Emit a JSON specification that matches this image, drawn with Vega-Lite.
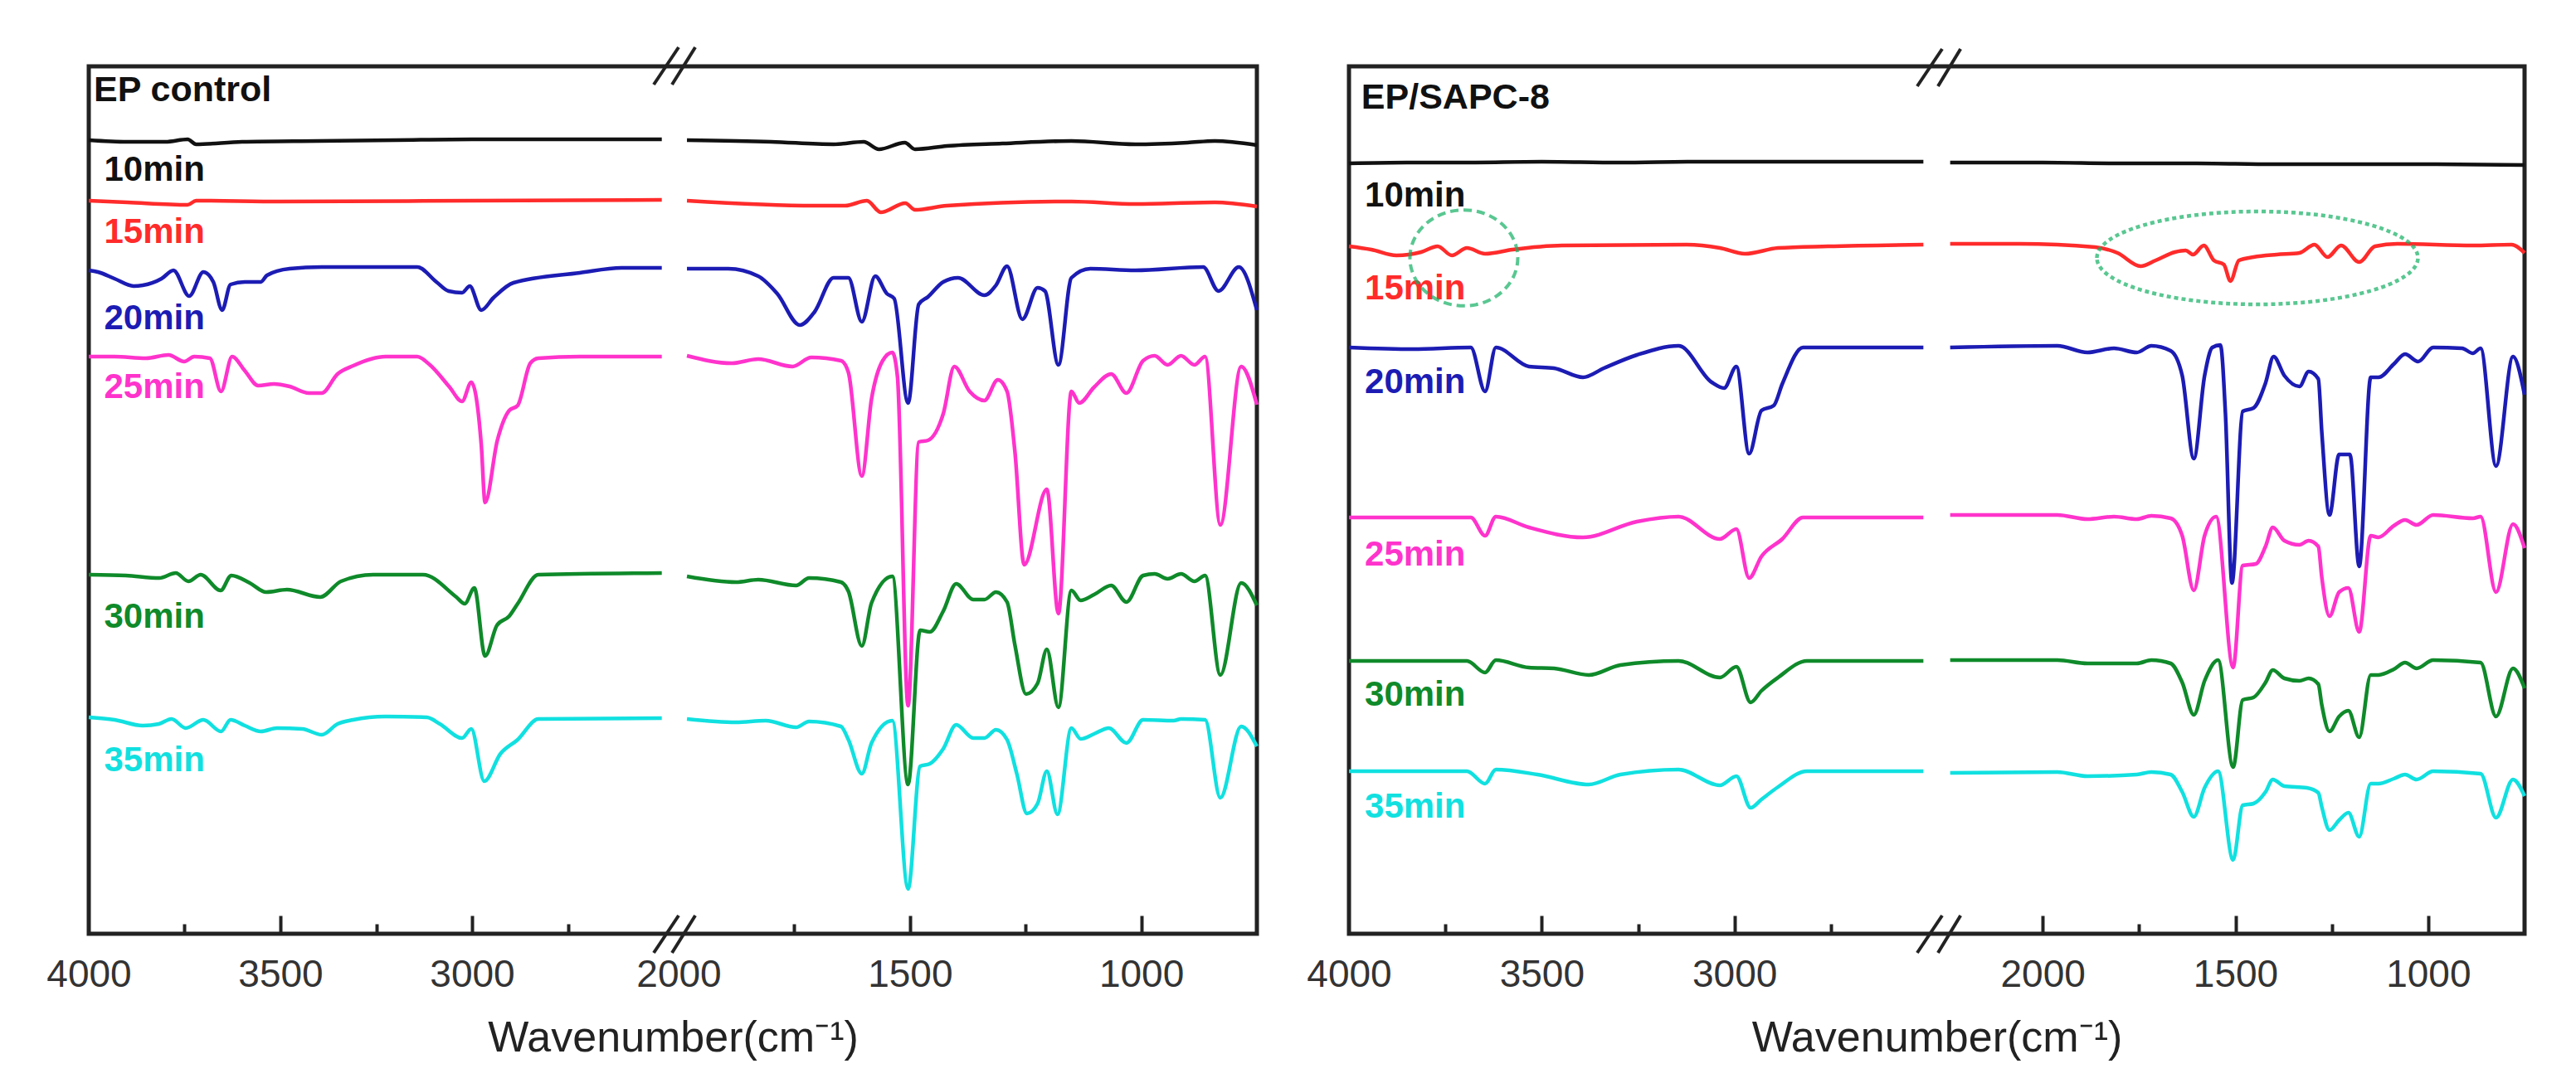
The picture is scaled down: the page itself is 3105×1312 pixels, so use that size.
{
  "$schema": "https://vega.github.io/schema/vega-lite/v6.json",
  "background": "white",
  "padding": {"left": 53, "top": 52, "right": 10, "bottom": 10},
  "spacing": 111,
  "bounds": "flush",
  "config": {"view": {"stroke": "#222222", "strokeWidth": 5}, "font": "Liberation Sans"},
  "datasets": {
    "ep": [
      {"series":"10min","seg":1,"wn":4000,"t":957},{"series":"10min","seg":1,"wn":3900,"t":955},{"series":"10min","seg":1,"wn":3800,"t":955},{"series":"10min","seg":1,"wn":3742,"t":958},{"series":"10min","seg":1,"wn":3720,"t":952},{"series":"10min","seg":1,"wn":3600,"t":955},{"series":"10min","seg":1,"wn":3400,"t":956},{"series":"10min","seg":1,"wn":3200,"t":957},{"series":"10min","seg":1,"wn":3000,"t":958},{"series":"10min","seg":1,"wn":2800,"t":958},{"series":"10min","seg":1,"wn":2505,"t":958},
      {"series":"10min","seg":2,"wn":1982,"t":957},{"series":"10min","seg":2,"wn":1800,"t":955},{"series":"10min","seg":2,"wn":1665,"t":952},{"series":"10min","seg":2,"wn":1600,"t":955},{"series":"10min","seg":2,"wn":1567,"t":946},{"series":"10min","seg":2,"wn":1511,"t":954},{"series":"10min","seg":2,"wn":1489,"t":946},{"series":"10min","seg":2,"wn":1420,"t":950},{"series":"10min","seg":2,"wn":1300,"t":953},{"series":"10min","seg":2,"wn":1151,"t":956},{"series":"10min","seg":2,"wn":1013,"t":952},{"series":"10min","seg":2,"wn":900,"t":954},{"series":"10min","seg":2,"wn":841,"t":956},{"series":"10min","seg":2,"wn":750,"t":951},
      {"series":"15min","seg":1,"wn":4000,"t":884},{"series":"15min","seg":1,"wn":3900,"t":882},{"series":"15min","seg":1,"wn":3742,"t":879},{"series":"15min","seg":1,"wn":3720,"t":884},{"series":"15min","seg":1,"wn":3500,"t":883},{"series":"15min","seg":1,"wn":3000,"t":884},{"series":"15min","seg":1,"wn":2505,"t":885},
      {"series":"15min","seg":2,"wn":1982,"t":884},{"series":"15min","seg":2,"wn":1706,"t":878},{"series":"15min","seg":2,"wn":1640,"t":878},{"series":"15min","seg":2,"wn":1593,"t":884},{"series":"15min","seg":2,"wn":1563,"t":870},{"series":"15min","seg":2,"wn":1510,"t":881},{"series":"15min","seg":2,"wn":1489,"t":873},{"series":"15min","seg":2,"wn":1420,"t":878},{"series":"15min","seg":2,"wn":1151,"t":883},{"series":"15min","seg":2,"wn":1013,"t":880},{"series":"15min","seg":2,"wn":841,"t":882},{"series":"15min","seg":2,"wn":750,"t":877},
      {"series":"20min","seg":1,"wn":4000,"t":800},{"series":"20min","seg":1,"wn":3976,"t":798},{"series":"20min","seg":1,"wn":3933,"t":790},{"series":"20min","seg":1,"wn":3883,"t":781},{"series":"20min","seg":1,"wn":3859,"t":782},{"series":"20min","seg":1,"wn":3810,"t":790},{"series":"20min","seg":1,"wn":3779,"t":800},{"series":"20min","seg":1,"wn":3738,"t":769},{"series":"20min","seg":1,"wn":3701,"t":798},{"series":"20min","seg":1,"wn":3675,"t":786},{"series":"20min","seg":1,"wn":3652,"t":752},{"series":"20min","seg":1,"wn":3630,"t":783},{"series":"20min","seg":1,"wn":3593,"t":786},{"series":"20min","seg":1,"wn":3551,"t":786},{"series":"20min","seg":1,"wn":3535,"t":794},{"series":"20min","seg":1,"wn":3476,"t":802},{"series":"20min","seg":1,"wn":3392,"t":804},{"series":"20min","seg":1,"wn":3143,"t":804},{"series":"20min","seg":1,"wn":3093,"t":786},{"series":"20min","seg":1,"wn":3061,"t":775},{"series":"20min","seg":1,"wn":3026,"t":773},{"series":"20min","seg":1,"wn":3006,"t":781},{"series":"20min","seg":1,"wn":2976,"t":752},{"series":"20min","seg":1,"wn":2944,"t":767},{"series":"20min","seg":1,"wn":2892,"t":785},{"series":"20min","seg":1,"wn":2719,"t":797},{"series":"20min","seg":1,"wn":2610,"t":803},{"series":"20min","seg":1,"wn":2505,"t":803},
      {"series":"20min","seg":2,"wn":1982,"t":802},{"series":"20min","seg":2,"wn":1893,"t":802},{"series":"20min","seg":2,"wn":1828,"t":793},{"series":"20min","seg":2,"wn":1787,"t":772},{"series":"20min","seg":2,"wn":1738,"t":734},{"series":"20min","seg":2,"wn":1706,"t":750},{"series":"20min","seg":2,"wn":1665,"t":791},{"series":"20min","seg":2,"wn":1633,"t":791},{"series":"20min","seg":2,"wn":1604,"t":738},{"series":"20min","seg":2,"wn":1575,"t":793},{"series":"20min","seg":2,"wn":1550,"t":772},{"series":"20min","seg":2,"wn":1534,"t":766},{"series":"20min","seg":2,"wn":1504,"t":640},{"series":"20min","seg":2,"wn":1481,"t":759},{"series":"20min","seg":2,"wn":1461,"t":768},{"series":"20min","seg":2,"wn":1428,"t":786},{"series":"20min","seg":2,"wn":1396,"t":791},{"series":"20min","seg":2,"wn":1339,"t":770},{"series":"20min","seg":2,"wn":1314,"t":782},{"series":"20min","seg":2,"wn":1290,"t":805},{"series":"20min","seg":2,"wn":1257,"t":741},{"series":"20min","seg":2,"wn":1224,"t":779},{"series":"20min","seg":2,"wn":1208,"t":775},{"series":"20min","seg":2,"wn":1179,"t":686},{"series":"20min","seg":2,"wn":1151,"t":791},{"series":"20min","seg":2,"wn":1110,"t":802},{"series":"20min","seg":2,"wn":1013,"t":800},{"series":"20min","seg":2,"wn":866,"t":804},{"series":"20min","seg":2,"wn":833,"t":775},{"series":"20min","seg":2,"wn":789,"t":804},{"series":"20min","seg":2,"wn":750,"t":752},
      {"series":"25min","seg":1,"wn":4000,"t":696},{"series":"25min","seg":1,"wn":3933,"t":696},{"series":"25min","seg":1,"wn":3851,"t":694},{"series":"25min","seg":1,"wn":3792,"t":698},{"series":"25min","seg":1,"wn":3751,"t":690},{"series":"25min","seg":1,"wn":3725,"t":696},{"series":"25min","seg":1,"wn":3684,"t":694},{"series":"25min","seg":1,"wn":3655,"t":654},{"series":"25min","seg":1,"wn":3626,"t":696},{"series":"25min","seg":1,"wn":3593,"t":679},{"series":"25min","seg":1,"wn":3558,"t":661},{"series":"25min","seg":1,"wn":3517,"t":663},{"series":"25min","seg":1,"wn":3476,"t":660},{"series":"25min","seg":1,"wn":3426,"t":652},{"series":"25min","seg":1,"wn":3392,"t":652},{"series":"25min","seg":1,"wn":3351,"t":675},{"series":"25min","seg":1,"wn":3310,"t":685},{"series":"25min","seg":1,"wn":3226,"t":696},{"series":"25min","seg":1,"wn":3143,"t":696},{"series":"25min","seg":1,"wn":3110,"t":686},{"series":"25min","seg":1,"wn":3060,"t":660},{"series":"25min","seg":1,"wn":3026,"t":642},{"series":"25min","seg":1,"wn":3002,"t":665},{"series":"25min","seg":1,"wn":2976,"t":590},{"series":"25min","seg":1,"wn":2966,"t":520},{"series":"25min","seg":1,"wn":2934,"t":595},{"series":"25min","seg":1,"wn":2903,"t":631},{"series":"25min","seg":1,"wn":2881,"t":637},{"series":"25min","seg":1,"wn":2848,"t":688},{"series":"25min","seg":1,"wn":2827,"t":694},{"series":"25min","seg":1,"wn":2719,"t":696},{"series":"25min","seg":1,"wn":2505,"t":696},
      {"series":"25min","seg":2,"wn":1982,"t":697},{"series":"25min","seg":2,"wn":1885,"t":688},{"series":"25min","seg":2,"wn":1828,"t":693},{"series":"25min","seg":2,"wn":1754,"t":684},{"series":"25min","seg":2,"wn":1713,"t":695},{"series":"25min","seg":2,"wn":1649,"t":691},{"series":"25min","seg":2,"wn":1633,"t":677},{"series":"25min","seg":2,"wn":1604,"t":552},{"series":"25min","seg":2,"wn":1583,"t":645},{"series":"25min","seg":2,"wn":1559,"t":691},{"series":"25min","seg":2,"wn":1538,"t":701},{"series":"25min","seg":2,"wn":1527,"t":672},{"series":"25min","seg":2,"wn":1504,"t":275},{"series":"25min","seg":2,"wn":1481,"t":593},{"series":"25min","seg":2,"wn":1461,"t":595},{"series":"25min","seg":2,"wn":1428,"t":627},{"series":"25min","seg":2,"wn":1404,"t":684},{"series":"25min","seg":2,"wn":1371,"t":654},{"series":"25min","seg":2,"wn":1339,"t":643},{"series":"25min","seg":2,"wn":1310,"t":668},{"series":"25min","seg":2,"wn":1290,"t":654},{"series":"25min","seg":2,"wn":1273,"t":581},{"series":"25min","seg":2,"wn":1253,"t":445},{"series":"25min","seg":2,"wn":1204,"t":536},{"series":"25min","seg":2,"wn":1179,"t":386},{"series":"25min","seg":2,"wn":1151,"t":654},{"series":"25min","seg":2,"wn":1134,"t":640},{"series":"25min","seg":2,"wn":1102,"t":659},{"series":"25min","seg":2,"wn":1065,"t":675},{"series":"25min","seg":2,"wn":1032,"t":652},{"series":"25min","seg":2,"wn":996,"t":691},{"series":"25min","seg":2,"wn":971,"t":697},{"series":"25min","seg":2,"wn":943,"t":686},{"series":"25min","seg":2,"wn":914,"t":697},{"series":"25min","seg":2,"wn":885,"t":686},{"series":"25min","seg":2,"wn":862,"t":696},{"series":"25min","seg":2,"wn":829,"t":493},{"series":"25min","seg":2,"wn":784,"t":684},{"series":"25min","seg":2,"wn":750,"t":638},
      {"series":"30min","seg":1,"wn":4000,"t":433},{"series":"30min","seg":1,"wn":3903,"t":432},{"series":"30min","seg":1,"wn":3816,"t":429},{"series":"30min","seg":1,"wn":3773,"t":435},{"series":"30min","seg":1,"wn":3740,"t":425},{"series":"30min","seg":1,"wn":3708,"t":433},{"series":"30min","seg":1,"wn":3656,"t":414},{"series":"30min","seg":1,"wn":3628,"t":432},{"series":"30min","seg":1,"wn":3580,"t":423},{"series":"30min","seg":1,"wn":3537,"t":412},{"series":"30min","seg":1,"wn":3483,"t":415},{"series":"30min","seg":1,"wn":3396,"t":406},{"series":"30min","seg":1,"wn":3342,"t":425},{"series":"30min","seg":1,"wn":3258,"t":433},{"series":"30min","seg":1,"wn":3128,"t":433},{"series":"30min","seg":1,"wn":3041,"t":406},{"series":"30min","seg":1,"wn":3019,"t":398},{"series":"30min","seg":1,"wn":2994,"t":417},{"series":"30min","seg":1,"wn":2966,"t":335},{"series":"30min","seg":1,"wn":2935,"t":372},{"series":"30min","seg":1,"wn":2903,"t":383},{"series":"30min","seg":1,"wn":2881,"t":398},{"series":"30min","seg":1,"wn":2827,"t":433},{"series":"30min","seg":1,"wn":2505,"t":435},
      {"series":"30min","seg":2,"wn":1982,"t":431},{"series":"30min","seg":2,"wn":1876,"t":424},{"series":"30min","seg":2,"wn":1828,"t":427},{"series":"30min","seg":2,"wn":1746,"t":420},{"series":"30min","seg":2,"wn":1718,"t":429},{"series":"30min","seg":2,"wn":1649,"t":424},{"series":"30min","seg":2,"wn":1633,"t":413},{"series":"30min","seg":2,"wn":1604,"t":347},{"series":"30min","seg":2,"wn":1583,"t":399},{"series":"30min","seg":2,"wn":1538,"t":431},{"series":"30min","seg":2,"wn":1504,"t":180},{"series":"30min","seg":2,"wn":1478,"t":366},{"series":"30min","seg":2,"wn":1457,"t":364},{"series":"30min","seg":2,"wn":1428,"t":389},{"series":"30min","seg":2,"wn":1400,"t":422},{"series":"30min","seg":2,"wn":1363,"t":403},{"series":"30min","seg":2,"wn":1339,"t":403},{"series":"30min","seg":2,"wn":1314,"t":412},{"series":"30min","seg":2,"wn":1290,"t":400},{"series":"30min","seg":2,"wn":1273,"t":348},{"series":"30min","seg":2,"wn":1249,"t":289},{"series":"30min","seg":2,"wn":1224,"t":302},{"series":"30min","seg":2,"wn":1204,"t":343},{"series":"30min","seg":2,"wn":1179,"t":273},{"series":"30min","seg":2,"wn":1151,"t":414},{"series":"30min","seg":2,"wn":1131,"t":402},{"series":"30min","seg":2,"wn":1102,"t":409},{"series":"30min","seg":2,"wn":1065,"t":420},{"series":"30min","seg":2,"wn":1032,"t":400},{"series":"30min","seg":2,"wn":996,"t":432},{"series":"30min","seg":2,"wn":971,"t":434},{"series":"30min","seg":2,"wn":943,"t":428},{"series":"30min","seg":2,"wn":914,"t":434},{"series":"30min","seg":2,"wn":885,"t":425},{"series":"30min","seg":2,"wn":862,"t":432},{"series":"30min","seg":2,"wn":829,"t":312},{"series":"30min","seg":2,"wn":784,"t":423},{"series":"30min","seg":2,"wn":750,"t":396},
      {"series":"35min","seg":1,"wn":4000,"t":261},{"series":"35min","seg":1,"wn":3933,"t":258},{"series":"35min","seg":1,"wn":3859,"t":251},{"series":"35min","seg":1,"wn":3817,"t":253},{"series":"35min","seg":1,"wn":3784,"t":259},{"series":"35min","seg":1,"wn":3747,"t":248},{"series":"35min","seg":1,"wn":3701,"t":258},{"series":"35min","seg":1,"wn":3655,"t":244},{"series":"35min","seg":1,"wn":3630,"t":258},{"series":"35min","seg":1,"wn":3593,"t":251},{"series":"35min","seg":1,"wn":3551,"t":244},{"series":"35min","seg":1,"wn":3509,"t":248},{"series":"35min","seg":1,"wn":3443,"t":247},{"series":"35min","seg":1,"wn":3392,"t":240},{"series":"35min","seg":1,"wn":3351,"t":253},{"series":"35min","seg":1,"wn":3310,"t":258},{"series":"35min","seg":1,"wn":3226,"t":262},{"series":"35min","seg":1,"wn":3118,"t":261},{"series":"35min","seg":1,"wn":3084,"t":253},{"series":"35min","seg":1,"wn":3026,"t":236},{"series":"35min","seg":1,"wn":3002,"t":247},{"series":"35min","seg":1,"wn":2968,"t":184},{"series":"35min","seg":1,"wn":2926,"t":217},{"series":"35min","seg":1,"wn":2881,"t":234},{"series":"35min","seg":1,"wn":2827,"t":259},{"series":"35min","seg":1,"wn":2505,"t":260},
      {"series":"35min","seg":2,"wn":1982,"t":259},{"series":"35min","seg":2,"wn":1876,"t":255},{"series":"35min","seg":2,"wn":1812,"t":257},{"series":"35min","seg":2,"wn":1746,"t":249},{"series":"35min","seg":2,"wn":1718,"t":256},{"series":"35min","seg":2,"wn":1649,"t":250},{"series":"35min","seg":2,"wn":1633,"t":234},{"series":"35min","seg":2,"wn":1604,"t":193},{"series":"35min","seg":2,"wn":1583,"t":230},{"series":"35min","seg":2,"wn":1538,"t":257},{"series":"35min","seg":2,"wn":1504,"t":54},{"series":"35min","seg":2,"wn":1478,"t":202},{"series":"35min","seg":2,"wn":1457,"t":205},{"series":"35min","seg":2,"wn":1428,"t":223},{"series":"35min","seg":2,"wn":1400,"t":252},{"series":"35min","seg":2,"wn":1363,"t":236},{"series":"35min","seg":2,"wn":1339,"t":236},{"series":"35min","seg":2,"wn":1314,"t":246},{"series":"35min","seg":2,"wn":1290,"t":234},{"series":"35min","seg":2,"wn":1269,"t":193},{"series":"35min","seg":2,"wn":1247,"t":145},{"series":"35min","seg":2,"wn":1224,"t":157},{"series":"35min","seg":2,"wn":1204,"t":196},{"series":"35min","seg":2,"wn":1181,"t":144},{"series":"35min","seg":2,"wn":1151,"t":248},{"series":"35min","seg":2,"wn":1131,"t":235},{"series":"35min","seg":2,"wn":1102,"t":241},{"series":"35min","seg":2,"wn":1070,"t":248},{"series":"35min","seg":2,"wn":1032,"t":230},{"series":"35min","seg":2,"wn":996,"t":258},{"series":"35min","seg":2,"wn":930,"t":257},{"series":"35min","seg":2,"wn":914,"t":259},{"series":"35min","seg":2,"wn":862,"t":258},{"series":"35min","seg":2,"wn":829,"t":164},{"series":"35min","seg":2,"wn":784,"t":250},{"series":"35min","seg":2,"wn":750,"t":226}
    ],
    "sapc": [
      {"series":"10min","seg":1,"wn":4000,"t":929},{"series":"10min","seg":1,"wn":3850,"t":930},{"series":"10min","seg":1,"wn":3700,"t":930},{"series":"10min","seg":1,"wn":3500,"t":931},{"series":"10min","seg":1,"wn":3300,"t":930},{"series":"10min","seg":1,"wn":3100,"t":931},{"series":"10min","seg":1,"wn":2900,"t":931},{"series":"10min","seg":1,"wn":2700,"t":931},{"series":"10min","seg":1,"wn":2510,"t":931},
      {"series":"10min","seg":2,"wn":2240,"t":930},{"series":"10min","seg":2,"wn":2000,"t":930},{"series":"10min","seg":2,"wn":1800,"t":929},{"series":"10min","seg":2,"wn":1600,"t":929},{"series":"10min","seg":2,"wn":1400,"t":928},{"series":"10min","seg":2,"wn":1200,"t":928},{"series":"10min","seg":2,"wn":1000,"t":928},{"series":"10min","seg":2,"wn":750,"t":927},
      {"series":"15min","seg":1,"wn":4000,"t":829},{"series":"15min","seg":1,"wn":3942,"t":825},{"series":"15min","seg":1,"wn":3877,"t":818},{"series":"15min","seg":1,"wn":3813,"t":822},{"series":"15min","seg":1,"wn":3770,"t":829},{"series":"15min","seg":1,"wn":3733,"t":818},{"series":"15min","seg":1,"wn":3694,"t":827},{"series":"15min","seg":1,"wn":3647,"t":820},{"series":"15min","seg":1,"wn":3576,"t":825},{"series":"15min","seg":1,"wn":3447,"t":830},{"series":"15min","seg":1,"wn":3124,"t":831},{"series":"15min","seg":1,"wn":3038,"t":827},{"series":"15min","seg":1,"wn":2973,"t":820},{"series":"15min","seg":1,"wn":2887,"t":827},{"series":"15min","seg":1,"wn":2758,"t":829},{"series":"15min","seg":1,"wn":2510,"t":831},
      {"series":"15min","seg":2,"wn":2240,"t":832},{"series":"15min","seg":2,"wn":2060,"t":832},{"series":"15min","seg":2,"wn":1864,"t":828},{"series":"15min","seg":2,"wn":1806,"t":821},{"series":"15min","seg":2,"wn":1746,"t":805},{"series":"15min","seg":2,"wn":1707,"t":812},{"series":"15min","seg":2,"wn":1657,"t":822},{"series":"15min","seg":2,"wn":1629,"t":824},{"series":"15min","seg":2,"wn":1610,"t":819},{"series":"15min","seg":2,"wn":1582,"t":830},{"series":"15min","seg":2,"wn":1556,"t":812},{"series":"15min","seg":2,"wn":1530,"t":807},{"series":"15min","seg":2,"wn":1513,"t":787},{"series":"15min","seg":2,"wn":1491,"t":812},{"series":"15min","seg":2,"wn":1453,"t":816},{"series":"15min","seg":2,"wn":1393,"t":819},{"series":"15min","seg":2,"wn":1334,"t":821},{"series":"15min","seg":2,"wn":1295,"t":831},{"series":"15min","seg":2,"wn":1261,"t":816},{"series":"15min","seg":2,"wn":1226,"t":830},{"series":"15min","seg":2,"wn":1179,"t":810},{"series":"15min","seg":2,"wn":1138,"t":829},{"series":"15min","seg":2,"wn":1080,"t":832},{"series":"15min","seg":2,"wn":884,"t":830},{"series":"15min","seg":2,"wn":784,"t":831},{"series":"15min","seg":2,"wn":750,"t":821},
      {"series":"20min","seg":1,"wn":4000,"t":707},{"series":"20min","seg":1,"wn":3834,"t":705},{"series":"20min","seg":1,"wn":3684,"t":707},{"series":"20min","seg":1,"wn":3647,"t":654},{"series":"20min","seg":1,"wn":3619,"t":707},{"series":"20min","seg":1,"wn":3533,"t":684},{"series":"20min","seg":1,"wn":3468,"t":682},{"series":"20min","seg":1,"wn":3393,"t":671},{"series":"20min","seg":1,"wn":3339,"t":682},{"series":"20min","seg":1,"wn":3253,"t":698},{"series":"20min","seg":1,"wn":3145,"t":709},{"series":"20min","seg":1,"wn":3059,"t":665},{"series":"20min","seg":1,"wn":3027,"t":658},{"series":"20min","seg":1,"wn":2995,"t":684},{"series":"20min","seg":1,"wn":2962,"t":579},{"series":"20min","seg":1,"wn":2930,"t":631},{"series":"20min","seg":1,"wn":2898,"t":637},{"series":"20min","seg":1,"wn":2876,"t":663},{"series":"20min","seg":1,"wn":2822,"t":707},{"series":"20min","seg":1,"wn":2510,"t":707},
      {"series":"20min","seg":2,"wn":2240,"t":707},{"series":"20min","seg":2,"wn":1962,"t":709},{"series":"20min","seg":2,"wn":1884,"t":701},{"series":"20min","seg":2,"wn":1815,"t":706},{"series":"20min","seg":2,"wn":1756,"t":701},{"series":"20min","seg":2,"wn":1718,"t":709},{"series":"20min","seg":2,"wn":1668,"t":703},{"series":"20min","seg":2,"wn":1638,"t":673},{"series":"20min","seg":2,"wn":1608,"t":573},{"series":"20min","seg":2,"wn":1580,"t":673},{"series":"20min","seg":2,"wn":1560,"t":707},{"series":"20min","seg":2,"wn":1539,"t":710},{"series":"20min","seg":2,"wn":1526,"t":628},{"series":"20min","seg":2,"wn":1509,"t":423},{"series":"20min","seg":2,"wn":1481,"t":630},{"series":"20min","seg":2,"wn":1453,"t":634},{"series":"20min","seg":2,"wn":1422,"t":664},{"series":"20min","seg":2,"wn":1401,"t":696},{"series":"20min","seg":2,"wn":1373,"t":673},{"series":"20min","seg":2,"wn":1334,"t":660},{"series":"20min","seg":2,"wn":1310,"t":678},{"series":"20min","seg":2,"wn":1285,"t":669},{"series":"20min","seg":2,"wn":1276,"t":605},{"series":"20min","seg":2,"wn":1256,"t":505},{"series":"20min","seg":2,"wn":1231,"t":578},{"series":"20min","seg":2,"wn":1203,"t":578},{"series":"20min","seg":2,"wn":1179,"t":443},{"series":"20min","seg":2,"wn":1149,"t":671},{"series":"20min","seg":2,"wn":1129,"t":671},{"series":"20min","seg":2,"wn":1089,"t":687},{"series":"20min","seg":2,"wn":1060,"t":699},{"series":"20min","seg":2,"wn":1026,"t":690},{"series":"20min","seg":2,"wn":987,"t":707},{"series":"20min","seg":2,"wn":912,"t":706},{"series":"20min","seg":2,"wn":884,"t":700},{"series":"20min","seg":2,"wn":864,"t":706},{"series":"20min","seg":2,"wn":824,"t":564},{"series":"20min","seg":2,"wn":780,"t":696},{"series":"20min","seg":2,"wn":750,"t":650},
      {"series":"25min","seg":1,"wn":4000,"t":502},{"series":"25min","seg":1,"wn":3684,"t":502},{"series":"25min","seg":1,"wn":3647,"t":480},{"series":"25min","seg":1,"wn":3619,"t":503},{"series":"25min","seg":1,"wn":3533,"t":490},{"series":"25min","seg":1,"wn":3393,"t":478},{"series":"25min","seg":1,"wn":3253,"t":497},{"series":"25min","seg":1,"wn":3145,"t":503},{"series":"25min","seg":1,"wn":3038,"t":476},{"series":"25min","seg":1,"wn":2995,"t":488},{"series":"25min","seg":1,"wn":2962,"t":429},{"series":"25min","seg":1,"wn":2930,"t":455},{"series":"25min","seg":1,"wn":2876,"t":476},{"series":"25min","seg":1,"wn":2822,"t":502},{"series":"25min","seg":1,"wn":2510,"t":502},
      {"series":"25min","seg":2,"wn":2240,"t":505},{"series":"25min","seg":2,"wn":1962,"t":505},{"series":"25min","seg":2,"wn":1884,"t":500},{"series":"25min","seg":2,"wn":1815,"t":503},{"series":"25min","seg":2,"wn":1756,"t":500},{"series":"25min","seg":2,"wn":1718,"t":504},{"series":"25min","seg":2,"wn":1668,"t":501},{"series":"25min","seg":2,"wn":1638,"t":480},{"series":"25min","seg":2,"wn":1608,"t":414},{"series":"25min","seg":2,"wn":1580,"t":480},{"series":"25min","seg":2,"wn":1550,"t":503},{"series":"25min","seg":2,"wn":1506,"t":321},{"series":"25min","seg":2,"wn":1481,"t":444},{"series":"25min","seg":2,"wn":1447,"t":446},{"series":"25min","seg":2,"wn":1422,"t":467},{"series":"25min","seg":2,"wn":1403,"t":490},{"series":"25min","seg":2,"wn":1373,"t":474},{"series":"25min","seg":2,"wn":1334,"t":469},{"series":"25min","seg":2,"wn":1310,"t":474},{"series":"25min","seg":2,"wn":1285,"t":467},{"series":"25min","seg":2,"wn":1276,"t":430},{"series":"25min","seg":2,"wn":1256,"t":383},{"series":"25min","seg":2,"wn":1231,"t":412},{"series":"25min","seg":2,"wn":1207,"t":417},{"series":"25min","seg":2,"wn":1179,"t":364},{"series":"25min","seg":2,"wn":1149,"t":480},{"series":"25min","seg":2,"wn":1129,"t":478},{"series":"25min","seg":2,"wn":1089,"t":492},{"series":"25min","seg":2,"wn":1060,"t":499},{"series":"25min","seg":2,"wn":1030,"t":493},{"series":"25min","seg":2,"wn":987,"t":505},{"series":"25min","seg":2,"wn":884,"t":501},{"series":"25min","seg":2,"wn":864,"t":503},{"series":"25min","seg":2,"wn":824,"t":412},{"series":"25min","seg":2,"wn":780,"t":494},{"series":"25min","seg":2,"wn":750,"t":465},
      {"series":"30min","seg":1,"wn":4000,"t":329},{"series":"30min","seg":1,"wn":3694,"t":329},{"series":"30min","seg":1,"wn":3647,"t":315},{"series":"30min","seg":1,"wn":3619,"t":330},{"series":"30min","seg":1,"wn":3533,"t":321},{"series":"30min","seg":1,"wn":3468,"t":320},{"series":"30min","seg":1,"wn":3378,"t":312},{"series":"30min","seg":1,"wn":3296,"t":324},{"series":"30min","seg":1,"wn":3145,"t":329},{"series":"30min","seg":1,"wn":3038,"t":309},{"series":"30min","seg":1,"wn":2995,"t":322},{"series":"30min","seg":1,"wn":2958,"t":279},{"series":"30min","seg":1,"wn":2930,"t":293},{"series":"30min","seg":1,"wn":2887,"t":309},{"series":"30min","seg":1,"wn":2812,"t":329},{"series":"30min","seg":1,"wn":2510,"t":329},
      {"series":"30min","seg":2,"wn":2240,"t":330},{"series":"30min","seg":2,"wn":1962,"t":330},{"series":"30min","seg":2,"wn":1884,"t":326},{"series":"30min","seg":2,"wn":1756,"t":326},{"series":"30min","seg":2,"wn":1718,"t":330},{"series":"30min","seg":2,"wn":1668,"t":326},{"series":"30min","seg":2,"wn":1638,"t":303},{"series":"30min","seg":2,"wn":1608,"t":264},{"series":"30min","seg":2,"wn":1580,"t":305},{"series":"30min","seg":2,"wn":1545,"t":330},{"series":"30min","seg":2,"wn":1506,"t":201},{"series":"30min","seg":2,"wn":1481,"t":282},{"series":"30min","seg":2,"wn":1453,"t":285},{"series":"30min","seg":2,"wn":1422,"t":303},{"series":"30min","seg":2,"wn":1403,"t":318},{"series":"30min","seg":2,"wn":1373,"t":308},{"series":"30min","seg":2,"wn":1334,"t":305},{"series":"30min","seg":2,"wn":1310,"t":308},{"series":"30min","seg":2,"wn":1285,"t":301},{"series":"30min","seg":2,"wn":1276,"t":276},{"series":"30min","seg":2,"wn":1256,"t":244},{"series":"30min","seg":2,"wn":1231,"t":262},{"series":"30min","seg":2,"wn":1207,"t":269},{"series":"30min","seg":2,"wn":1179,"t":237},{"series":"30min","seg":2,"wn":1149,"t":312},{"series":"30min","seg":2,"wn":1129,"t":312},{"series":"30min","seg":2,"wn":1089,"t":319},{"series":"30min","seg":2,"wn":1060,"t":327},{"series":"30min","seg":2,"wn":1030,"t":320},{"series":"30min","seg":2,"wn":987,"t":330},{"series":"30min","seg":2,"wn":864,"t":327},{"series":"30min","seg":2,"wn":824,"t":262},{"series":"30min","seg":2,"wn":780,"t":320},{"series":"30min","seg":2,"wn":750,"t":296},
      {"series":"35min","seg":1,"wn":4000,"t":196},{"series":"35min","seg":1,"wn":3694,"t":196},{"series":"35min","seg":1,"wn":3647,"t":181},{"series":"35min","seg":1,"wn":3619,"t":198},{"series":"35min","seg":1,"wn":3511,"t":192},{"series":"35min","seg":1,"wn":3378,"t":180},{"series":"35min","seg":1,"wn":3296,"t":192},{"series":"35min","seg":1,"wn":3145,"t":198},{"series":"35min","seg":1,"wn":3038,"t":179},{"series":"35min","seg":1,"wn":2995,"t":190},{"series":"35min","seg":1,"wn":2958,"t":152},{"series":"35min","seg":1,"wn":2930,"t":162},{"series":"35min","seg":1,"wn":2887,"t":177},{"series":"35min","seg":1,"wn":2812,"t":196},{"series":"35min","seg":1,"wn":2510,"t":196},
      {"series":"35min","seg":2,"wn":2240,"t":194},{"series":"35min","seg":2,"wn":1962,"t":195},{"series":"35min","seg":2,"wn":1884,"t":190},{"series":"35min","seg":2,"wn":1756,"t":192},{"series":"35min","seg":2,"wn":1718,"t":195},{"series":"35min","seg":2,"wn":1668,"t":192},{"series":"35min","seg":2,"wn":1638,"t":171},{"series":"35min","seg":2,"wn":1608,"t":141},{"series":"35min","seg":2,"wn":1580,"t":176},{"series":"35min","seg":2,"wn":1545,"t":196},{"series":"35min","seg":2,"wn":1506,"t":89},{"series":"35min","seg":2,"wn":1481,"t":155},{"series":"35min","seg":2,"wn":1453,"t":157},{"series":"35min","seg":2,"wn":1422,"t":171},{"series":"35min","seg":2,"wn":1403,"t":186},{"series":"35min","seg":2,"wn":1373,"t":178},{"series":"35min","seg":2,"wn":1315,"t":176},{"series":"35min","seg":2,"wn":1285,"t":170},{"series":"35min","seg":2,"wn":1276,"t":153},{"series":"35min","seg":2,"wn":1256,"t":125},{"series":"35min","seg":2,"wn":1231,"t":137},{"series":"35min","seg":2,"wn":1207,"t":146},{"series":"35min","seg":2,"wn":1179,"t":117},{"series":"35min","seg":2,"wn":1149,"t":181},{"series":"35min","seg":2,"wn":1129,"t":181},{"series":"35min","seg":2,"wn":1089,"t":187},{"series":"35min","seg":2,"wn":1060,"t":192},{"series":"35min","seg":2,"wn":1030,"t":186},{"series":"35min","seg":2,"wn":987,"t":196},{"series":"35min","seg":2,"wn":864,"t":193},{"series":"35min","seg":2,"wn":824,"t":140},{"series":"35min","seg":2,"wn":780,"t":186},{"series":"35min","seg":2,"wn":750,"t":166}
    ],
    "ep_labels": [
      {"series":"10min","wn":3960,"t":921},{"series":"15min","wn":3960,"t":846},{"series":"20min","wn":3960,"t":742},
      {"series":"25min","wn":3960,"t":659},{"series":"30min","wn":3960,"t":382},{"series":"35min","wn":3960,"t":209}
    ],
    "sapc_labels": [
      {"series":"10min","wn":3959,"t":890},{"series":"15min","wn":3959,"t":778},{"series":"20min","wn":3959,"t":665},
      {"series":"25min","wn":3959,"t":457},{"series":"30min","wn":3959,"t":288},{"series":"35min","wn":3959,"t":153}
    ],
    "ep_breaks": [
      {"x1":2526,"x2":2000,"t1":1024,"t2":1069},{"x1":2222,"x2":1964,"t1":1024,"t2":1069},
      {"x1":2526,"x2":2000,"t1":-23,"t2":22},{"x1":2222,"x2":1964,"t1":-23,"t2":22}
    ],
    "sapc_breaks": [
      {"x1":2526,"x2":2304,"t1":1022,"t2":1067},{"x1":2359,"x2":2213,"t1":1022,"t2":1067},
      {"x1":2526,"x2":2304,"t1":-23,"t2":22},{"x1":2359,"x2":2213,"t1":-23,"t2":22}
    ],
    "ellipses": [
      {"region":"OH","wn":3702,"t":815},
      {"region":"fingerprint","wn":1443,"t":815}
    ]
  },
  "hconcat": [
    {
      "width": 1408,
      "height": 1046,
      "resolve": {"axis": {"x": "independent"}},
      "layer": [
        {
          "data": {"name": "ep"},
          "mark": {"type": "line", "strokeWidth": 4.5, "strokeJoin": "round", "interpolate": "monotone"},
          "encoding": {
            "x": {"field": "wn", "type": "quantitative",
              "scale": {"domain": [4000, 2500, 2000, 750], "range": [0, 693, 711, 1408], "zero": false, "nice": false},
              "axis": {"orient": "bottom", "values": [4000, 3500, 3000, 2000, 1500, 1000], "format": "d", "ticks": false, "domain": false, "grid": false,
                "labelFont": "Liberation Sans", "labelFontSize": 46, "labelColor": "#333333", "labelPadding": 27, "labelFlush": false, "labelOverlap": false,
                "title": "Wavenumber(cm⁻¹)", "titleFont": "Liberation Sans", "titleFontSize": 52, "titleFontWeight": "normal", "titleColor": "#222222", "titlePadding": 28}},
            "y": {"field": "t", "type": "quantitative", "scale": {"domain": [0, 1046], "zero": false, "nice": false}, "axis": null},
            "color": {"field": "series", "type": "nominal",
              "scale": {"domain": ["10min", "15min", "20min", "25min", "30min", "35min"], "range": ["#111111", "#ff2b2b", "#1c1cb4", "#ff33cc", "#0f8a2a", "#11e0e0"]},
              "legend": null},
            "detail": {"field": "seg", "type": "nominal"}
          }
        },
        {
          "data": {"name": "ep_breaks"},
          "mark": {"type": "rule", "strokeWidth": 4, "color": "#222222"},
          "encoding": {
            "x": {"field": "x1", "type": "quantitative",
              "scale": {"domain": [4000, 2500, 2000, 750], "range": [0, 693, 711, 1408], "zero": false, "nice": false},
              "axis": {"orient": "bottom", "values": [3500, 3000, 1500, 1000], "labels": false, "domain": false, "grid": false, "tickSize": -22, "tickWidth": 4, "tickColor": "#222222", "title": null}},
            "x2": {"field": "x2"},
            "y": {"field": "t1", "type": "quantitative", "scale": {"domain": [0, 1046], "zero": false, "nice": false}, "axis": null},
            "y2": {"field": "t2"}
          }
        },
        {
          "data": {"name": "ep_labels"},
          "mark": {"type": "text", "align": "left", "baseline": "middle", "font": "Liberation Sans", "fontWeight": "bold", "fontSize": 42},
          "encoding": {
            "x": {"field": "wn", "type": "quantitative",
              "scale": {"domain": [4000, 2500, 2000, 750], "range": [0, 693, 711, 1408], "zero": false, "nice": false},
              "axis": {"orient": "bottom", "values": [3750, 3250, 2750, 1750, 1250], "labels": false, "domain": false, "grid": false, "tickSize": -12, "tickWidth": 4, "tickColor": "#222222", "title": null}},
            "y": {"field": "t", "type": "quantitative", "scale": {"domain": [0, 1046], "zero": false, "nice": false}, "axis": null},
            "text": {"field": "series"},
            "color": {"field": "series", "type": "nominal",
              "scale": {"domain": ["10min", "15min", "20min", "25min", "30min", "35min"], "range": ["#111111", "#ff2b2b", "#1c1cb4", "#ff33cc", "#0f8a2a", "#11e0e0"]},
              "legend": null}
          }
        },
        {
          "data": {"values": [{"sample": "EP control", "wn": 3987, "t": 1017}]},
          "mark": {"type": "text", "align": "left", "baseline": "middle", "font": "Liberation Sans", "fontWeight": "bold", "fontSize": 43, "color": "#111111"},
          "encoding": {
            "x": {"field": "wn", "type": "quantitative",
              "scale": {"domain": [4000, 2500, 2000, 750], "range": [0, 693, 711, 1408], "zero": false, "nice": false}, "axis": null},
            "y": {"field": "t", "type": "quantitative", "scale": {"domain": [0, 1046], "zero": false, "nice": false}, "axis": null},
            "text": {"field": "sample"}
          }
        }
      ]
    },
    {
      "width": 1417,
      "height": 1046,
      "resolve": {"axis": {"x": "independent"}},
      "layer": [
        {
          "data": {"name": "sapc"},
          "mark": {"type": "line", "strokeWidth": 4.5, "strokeJoin": "round", "interpolate": "monotone"},
          "encoding": {
            "x": {"field": "wn", "type": "quantitative",
              "scale": {"domain": [4000, 2500, 2250, 750], "range": [0, 697, 720, 1417], "zero": false, "nice": false},
              "axis": {"orient": "bottom", "values": [4000, 3500, 3000, 2000, 1500, 1000], "format": "d", "ticks": false, "domain": false, "grid": false,
                "labelFont": "Liberation Sans", "labelFontSize": 46, "labelColor": "#333333", "labelPadding": 27, "labelFlush": false, "labelOverlap": false,
                "title": "Wavenumber(cm⁻¹)", "titleFont": "Liberation Sans", "titleFontSize": 52, "titleFontWeight": "normal", "titleColor": "#222222", "titlePadding": 28}},
            "y": {"field": "t", "type": "quantitative", "scale": {"domain": [0, 1046], "zero": false, "nice": false}, "axis": null},
            "color": {"field": "series", "type": "nominal",
              "scale": {"domain": ["10min", "15min", "20min", "25min", "30min", "35min"], "range": ["#111111", "#ff2b2b", "#1c1cb4", "#ff33cc", "#0f8a2a", "#11e0e0"]},
              "legend": null},
            "detail": {"field": "seg", "type": "nominal"}
          }
        },
        {
          "data": {"name": "sapc_breaks"},
          "mark": {"type": "rule", "strokeWidth": 4, "color": "#222222"},
          "encoding": {
            "x": {"field": "x1", "type": "quantitative",
              "scale": {"domain": [4000, 2500, 2250, 750], "range": [0, 697, 720, 1417], "zero": false, "nice": false},
              "axis": {"orient": "bottom", "values": [3500, 3000, 2000, 1500, 1000], "labels": false, "domain": false, "grid": false, "tickSize": -22, "tickWidth": 4, "tickColor": "#222222", "title": null}},
            "x2": {"field": "x2"},
            "y": {"field": "t1", "type": "quantitative", "scale": {"domain": [0, 1046], "zero": false, "nice": false}, "axis": null},
            "y2": {"field": "t2"}
          }
        },
        {
          "data": {"name": "sapc_labels"},
          "mark": {"type": "text", "align": "left", "baseline": "middle", "font": "Liberation Sans", "fontWeight": "bold", "fontSize": 42},
          "encoding": {
            "x": {"field": "wn", "type": "quantitative",
              "scale": {"domain": [4000, 2500, 2250, 750], "range": [0, 697, 720, 1417], "zero": false, "nice": false},
              "axis": {"orient": "bottom", "values": [3750, 3250, 2750, 1750, 1250], "labels": false, "domain": false, "grid": false, "tickSize": -12, "tickWidth": 4, "tickColor": "#222222", "title": null}},
            "y": {"field": "t", "type": "quantitative", "scale": {"domain": [0, 1046], "zero": false, "nice": false}, "axis": null},
            "text": {"field": "series"},
            "color": {"field": "series", "type": "nominal",
              "scale": {"domain": ["10min", "15min", "20min", "25min", "30min", "35min"], "range": ["#111111", "#ff2b2b", "#1c1cb4", "#ff33cc", "#0f8a2a", "#11e0e0"]},
              "legend": null}
          }
        },
        {
          "data": {"values": [{"sample": "EP/SAPC-8", "wn": 3968, "t": 1008}]},
          "mark": {"type": "text", "align": "left", "baseline": "middle", "font": "Liberation Sans", "fontWeight": "bold", "fontSize": 43, "color": "#111111"},
          "encoding": {
            "x": {"field": "wn", "type": "quantitative",
              "scale": {"domain": [4000, 2500, 2250, 750], "range": [0, 697, 720, 1417], "zero": false, "nice": false}, "axis": null},
            "y": {"field": "t", "type": "quantitative", "scale": {"domain": [0, 1046], "zero": false, "nice": false}, "axis": null},
            "text": {"field": "sample"}
          }
        },
        {
          "data": {"name": "ellipses"},
          "transform": [{"filter": "datum.region == 'OH'"}],
          "mark": {"type": "point", "filled": false, "size": 16900, "strokeWidth": 4, "strokeDash": [10, 6], "color": "#13b063",
            "shape": "M -1 0 C -1 -0.4915 -0.5523 -0.89 0 -0.89 C 0.5523 -0.89 1 -0.4915 1 0 C 1 0.4915 0.5523 0.89 0 0.89 C -0.5523 0.89 -1 0.4915 -1 0 Z"},
          "encoding": {
            "x": {"field": "wn", "type": "quantitative",
              "scale": {"domain": [4000, 2500, 2250, 750], "range": [0, 697, 720, 1417], "zero": false, "nice": false}, "axis": null},
            "y": {"field": "t", "type": "quantitative", "scale": {"domain": [0, 1046], "zero": false, "nice": false}, "axis": null}
          }
        },
        {
          "data": {"name": "ellipses"},
          "transform": [{"filter": "datum.region == 'fingerprint'"}],
          "mark": {"type": "point", "filled": false, "size": 149769, "strokeWidth": 4.5, "strokeDash": [5, 4], "color": "#13b063",
            "shape": "M -1 0 C -1 -0.1598 -0.5523 -0.2894 0 -0.2894 C 0.5523 -0.2894 1 -0.1598 1 0 C 1 0.1598 0.5523 0.2894 0 0.2894 C -0.5523 0.2894 -1 0.1598 -1 0 Z"},
          "encoding": {
            "x": {"field": "wn", "type": "quantitative",
              "scale": {"domain": [4000, 2500, 2250, 750], "range": [0, 697, 720, 1417], "zero": false, "nice": false}, "axis": null},
            "y": {"field": "t", "type": "quantitative", "scale": {"domain": [0, 1046], "zero": false, "nice": false}, "axis": null}
          }
        }
      ]
    }
  ]
}
